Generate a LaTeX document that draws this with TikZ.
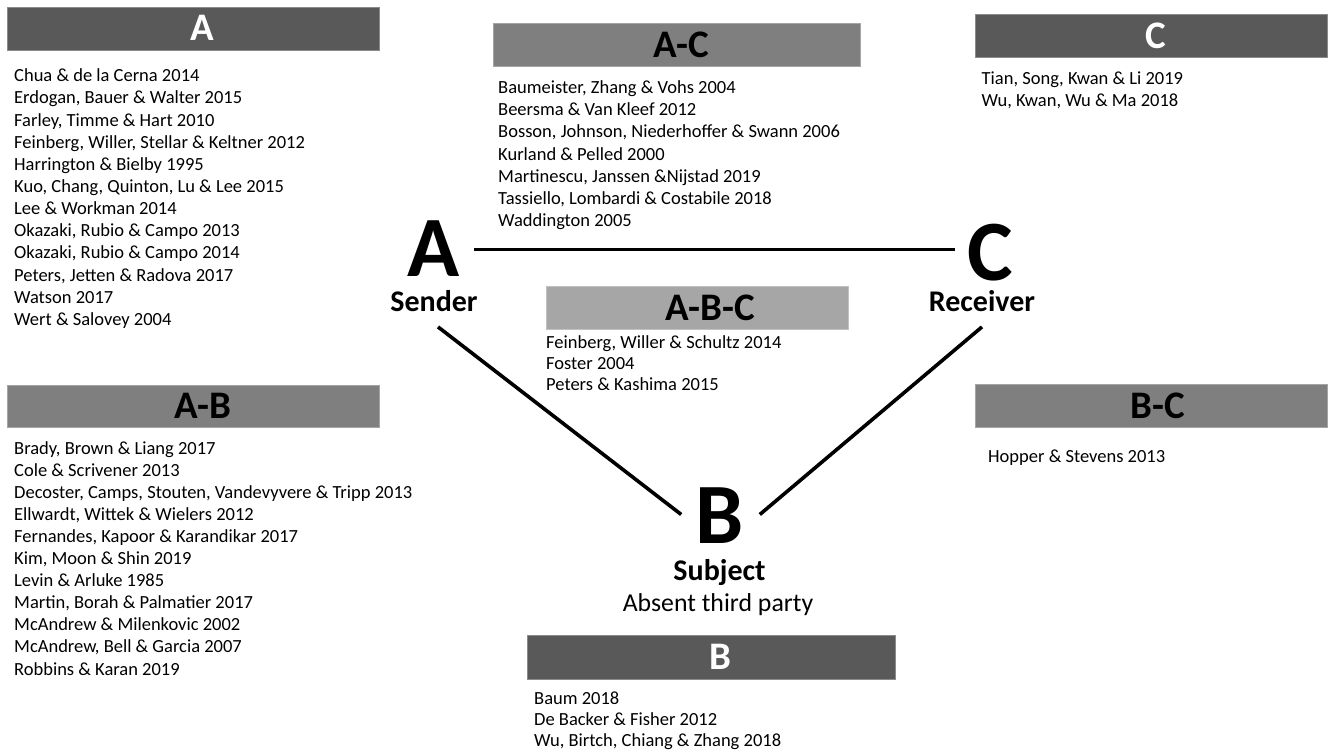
\documentclass[tikz,border=0pt]{standalone}
\usepackage{fontspec}
\setmainfont{Carlito}
\definecolor{gdark}{HTML}{595959}
\definecolor{gmid}{HTML}{7F7F7F}
\definecolor{glight}{HTML}{A6A6A6}
\tikzset{
  hbox/.style={fill=#1, draw=#1!70!white, line width=0.6pt, inner sep=0pt},
  hlab/.style={inner sep=0pt, text height=24.5pt, text depth=0pt, font=\bfseries\fontsize{39}{39}\selectfont},
  ref/.style={anchor=base west, inner sep=0pt, font=\fontsize{18.5}{22}\selectfont},
  big/.style={anchor=base, inner sep=0pt, text height=54pt, text depth=0pt, font=\bfseries\fontsize{86}{86}\selectfont},
  role/.style={anchor=base, inner sep=0pt, text height=19pt, text depth=0pt, font=\bfseries\fontsize{30}{30}\selectfont},
  sub/.style={anchor=base, inner sep=0pt, font=\fontsize{25.8}{26}\selectfont},
  edge/.style={line width=3.6pt}
}
\newcommand\myreflist[5]{\foreach \t [count=\i] in {#5} {\node[ref] (#1\i) at (#2, {#3+(\i-1)*#4}) {\t};}}
\begin{document}
\begin{tikzpicture}[x=1pt, y=-1pt]
\useasboundingbox[fill=white] (0,0) rectangle (1331,753);

% header boxes
\node[hbox=gdark, minimum width=372pt, minimum height=43pt] (boxA) at (193,28.5) {};
\node[hlab, text=white] (labA) at (202,28.5) {A};
\node[hbox=gmid, minimum width=367pt, minimum height=43.5pt] (boxAC) at (676.5,44.8) {};
\node[hlab] (labAC) at (681.5,44.8) {A-C};
\node[hbox=gdark, minimum width=352pt, minimum height=43.5pt] (boxC) at (1151,35.8) {};
\node[hlab, text=white] (labC) at (1155.5,35.8) {C};
\node[hbox=glight, minimum width=302pt, minimum height=43pt] (boxABC) at (697,308) {};
\node[hlab] (labABC) at (710,308) {A-B-C};
\node[hbox=gmid, minimum width=372pt, minimum height=42.5pt] (boxAB) at (193,406.3) {};
\node[hlab] (labAB) at (203,406.3) {A-B};
\node[hbox=gmid, minimum width=352pt, minimum height=43.5pt] (boxBC) at (1151,406) {};
\node[hlab] (labBC) at (1158,406) {B-C};
\node[hbox=gdark, minimum width=368pt, minimum height=43.3pt] (boxB) at (711,657.3) {};
\node[hlab, text=white] (labB) at (720,657.3) {B};

% reference lists
\myreflist{ra}{14}{81.7}{22.15}{{Chua \& de la Cerna 2014},{Erdogan, Bauer \& Walter 2015},{Farley, Timme \& Hart 2010},{Feinberg, Willer, Stellar \& Keltner 2012},{Harrington \& Bielby 1995},{Kuo, Chang, Quinton, Lu \& Lee 2015},{Lee \& Workman 2014},{Okazaki, Rubio \& Campo 2013},{Okazaki, Rubio \& Campo 2014},{Peters, Jetten \& Radova 2017},{Watson 2017},{Wert \& Salovey 2004}}
\myreflist{rac}{498}{93.3}{22.25}{{Baumeister, Zhang \& Vohs 2004},{Beersma \& Van Kleef 2012},{Bosson, Johnson, Niederhoffer \& Swann 2006},{Kurland \& Pelled 2000},{Martinescu, Janssen \&Nijstad 2019},{Tassiello, Lombardi \& Costabile 2018},{Waddington 2005}}
\myreflist{rc}{981.5}{84}{22}{{Tian, Song, Kwan \& Li 2019},{Wu, Kwan, Wu \& Ma 2018}}
\myreflist{rabc}{546}{348.5}{21.2}{{Feinberg, Willer \& Schultz 2014},{Foster 2004},{Peters \& Kashima 2015}}
\myreflist{rab}{14}{454}{22.1}{{Brady, Brown \& Liang 2017},{Cole \& Scrivener 2013},{Decoster, Camps, Stouten, Vandevyvere \& Tripp 2013},{Ellwardt, Wittek \& Wielers 2012},{Fernandes, Kapoor \& Karandikar 2017},{Kim, Moon \& Shin 2019},{Levin \& Arluke 1985},{Martin, Borah \& Palmatier 2017},{McAndrew \& Milenkovic 2002},{McAndrew, Bell \& Garcia 2007},{Robbins \& Karan 2019}}
\myreflist{rbc}{988}{462.5}{22}{{Hopper \& Stevens 2013}}
\myreflist{rb}{534}{704.3}{21.2}{{Baum 2018},{De Backer \& Fisher 2012},{Wu, Birtch, Chiang \& Zhang 2018}}

% triangle
\node[big] (bigA) at (433.5,276.5) {A};
\node[role] (sender) at (434,311.7) {Sender};
\node[big] (bigC) at (990.5,280) {C};
\node[role] (receiver) at (982,311.7) {Receiver};
\node[big] (bigB) at (719.5,543.5) {B};
\node[role] (subject) at (719.5,580) {Subject};
\node[sub] (absent) at (718,611.7) {Absent third party};

\draw[edge] ([xshift=14pt]bigA.east) -- ([xshift=-13pt]bigC.west |- bigA.east);
\draw[edge] ([shift={(4pt,-15pt)}]sender.south) -- ([shift={(-14pt,2pt)}]bigB.west);
\draw[edge] ([shift={(0pt,-15pt)}]receiver.south) -- ([shift={(16pt,2pt)}]bigB.east);
\end{tikzpicture}
\end{document}
